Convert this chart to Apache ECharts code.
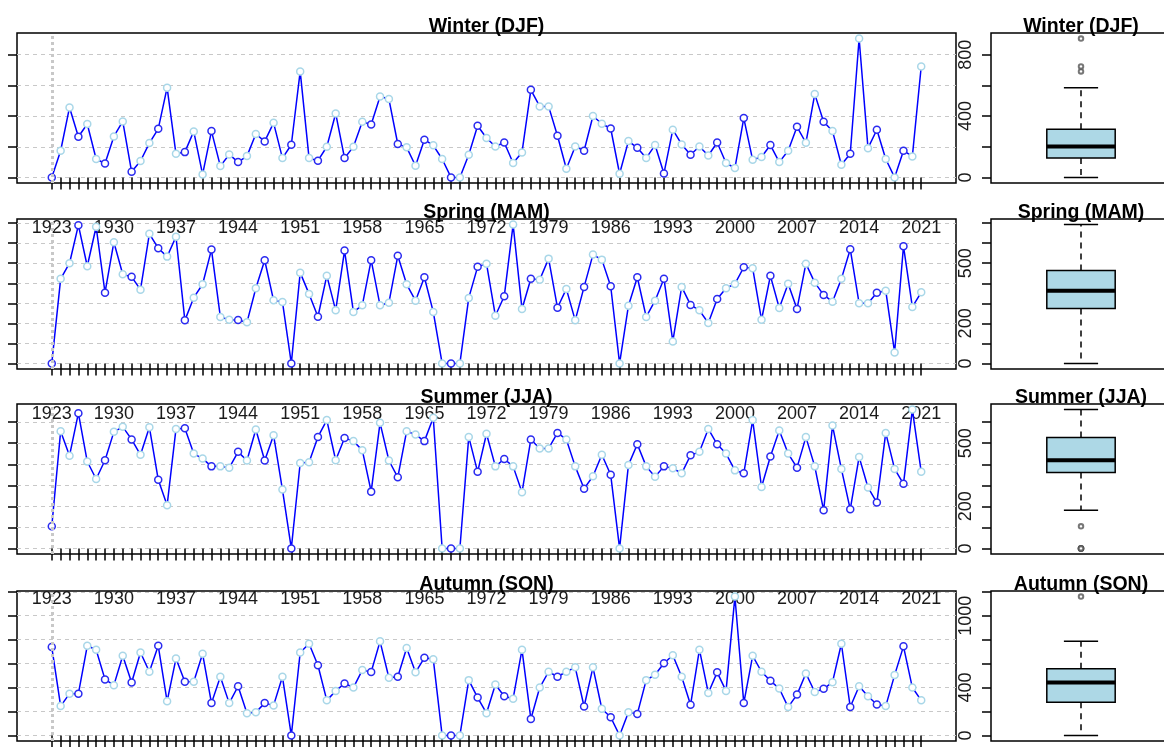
<!DOCTYPE html>
<html>
<head>
<meta charset="utf-8">
<script src="https://cdn.jsdelivr.net/npm/echarts@6/dist/echarts.min.js"></script>
<style>
  html, body { margin: 0; padding: 0; background: #fff; }
  #chart { width: 1164px; height: 747px; }
</style>
</head>
<body>
<div id="chart"></div>
<script>
// Seasonal totals, one value per year 1923..2021
const firstYear = 1923;
const lastYear = 2021;
const years = [];
for (let y = firstYear; y <= lastYear; y++) years.push(y);

const winter = [0,174,456,265,348,120,91,267,365,37, 107,224,317,585,154,165,300,20,302,74,
  150,100,139,283,235,356,126,213,691,126, 109,200,417,126,200,363,345,528,511,218,
  196,76,246,209,120,0,0,148,337,257, 202,228,94,163,571,463,463,272,57,202,
  174,400,350,319,24,237,193,126,211,26, 311,215,148,202,143,228,94,61,387,115,
  133,211,100,174,330,226,543,363,302,83, 154,905,191,311,120,0,174,137,723];

const spring = [0,422,500,690,485,682,353,605,445,432, 368,647,575,533,632,215,328,395,568,232,
  218,217,205,375,515,315,307,0,453,347, 233,438,265,563,257,290,515,290,303,537,
  395,313,430,257,0,0,0,327,482,498, 238,335,693,272,423,418,523,278,372,215,
  382,543,518,385,0,288,430,232,313,423, 110,382,292,265,202,322,375,397,480,475,
  218,437,277,398,272,498,403,342,308,422, 570,300,300,353,363,55,585,282,355];

const summer = [105,557,441,643,413,330,419,554,578,518, 445,576,327,205,568,571,451,427,390,390,
  383,459,418,565,418,538,280,0,406,410, 530,610,419,525,510,467,270,597,418,338,
  557,541,510,621,0,0,0,530,364,545, 390,425,390,267,518,475,475,549,518,390,
  284,343,445,350,0,397,495,390,341,390, 381,357,443,459,568,495,451,371,357,610,
  292,437,560,451,384,529,390,181,584,378, 186,435,290,218,549,378,307,660,364];

const autumn = [738,245,349,349,749,716,468,420,665,442, 693,532,749,285,642,448,448,682,270,490,
  270,411,186,194,270,251,490,0,693,766, 586,293,372,434,400,546,530,786,482,490,
  730,527,648,637,0,0,0,462,316,186, 425,327,307,716,138,400,532,490,532,569,
  242,569,223,152,0,194,180,462,507,603, 670,490,256,716,355,527,372,1160,270,665,
  532,456,392,237,341,518,363,389,445,766, 237,411,327,259,245,504,744,400,293];

// Axis ticks and labelled ticks
const yearLabels = [1923,1930,1937,1944,1951,1958,1965,1972,1979,1986,1993,2000,2007,2014,2021];
const winterTicks = [0,200,400,600,800];
const winterLabels = [0,400,800];
const springTicks = [0,100,200,300,400,500,600,700];
const springLabels = [0,200,500];
const summerTicks = [0,100,200,300,400,500,600];
const summerLabels = [0,200,500];
const autumnTicks = [0,200,400,600,800,1000,1200];
const autumnLabels = [0,400,1000];

const seasonTitles = ['Winter (DJF)', 'Spring (MAM)', 'Summer (JJA)', 'Autumn (SON)'];

const seasons = [
  { title: seasonTitles[0], values: winter, ticks: winterTicks, labels: winterLabels },
  { title: seasonTitles[1], values: spring, ticks: springTicks, labels: springLabels },
  { title: seasonTitles[2], values: summer, ticks: summerTicks, labels: summerLabels },
  { title: seasonTitles[3], values: autumn, ticks: autumnTicks, labels: autumnLabels }
];

// Layout
const FONT = '"Liberation Sans", Arial, Helvetica, sans-serif';
const ROW_TOP = [33, 219, 404, 591];
const ROW_H = 150;
const LINE_LEFT = 17, LINE_W = 939;
const BOX_LEFT = 991, BOX_W = 180;
const BOX_HALF = 0.19, CAP_HALF = 0.095;

// 4% padding on each side of the data range
function padRange(lo, hi) {
  const r = hi - lo;
  return [lo - 0.04 * r, hi + 0.04 * r];
}

// Tukey hinges, whiskers at 1.5 IQR, and outliers
function boxStats(values) {
  const s = values.slice().sort((a, b) => a - b);
  const n = s.length;
  const n4 = Math.floor((n + 3) / 2) / 2;
  const d = [1, n4, (n + 1) / 2, n + 1 - n4, n];
  const st = d.map(k => 0.5 * (s[Math.floor(k) - 1] + s[Math.ceil(k) - 1]));
  const iqr = st[3] - st[1];
  const lo = st[1] - 1.5 * iqr, hi = st[3] + 1.5 * iqr;
  const inside = s.filter(v => v >= lo && v <= hi);
  const out = s.filter(v => v < lo || v > hi);
  st[0] = inside[0];
  st[4] = inside[inside.length - 1];
  return { stats: st, out };
}

const plain = v => String(Math.round(v));
const xRange = padRange(firstYear, lastYear);

const grid = [], xAxis = [], yAxis = [], series = [], graphic = [];

function segment(p1, p2, style) {
  return { type: 'line', shape: { x1: p1[0], y1: p1[1], x2: p2[0], y2: p2[1] }, style };
}

seasons.forEach((s, r) => {
  const top = ROW_TOP[r];
  const vmin = Math.min(...s.values), vmax = Math.max(...s.values);
  const yRange = padRange(vmin, vmax);
  const gi = 2 * r, bi = 2 * r + 1;

  grid.push({ left: LINE_LEFT, top, width: LINE_W, height: ROW_H, show: true,
    borderColor: '#000', borderWidth: 1.5, backgroundColor: 'transparent',
    containLabel: false, outerBoundsMode: 'none' });
  grid.push({ left: BOX_LEFT, top, width: BOX_W, height: ROW_H, show: true,
    borderColor: '#000', borderWidth: 1.5, backgroundColor: 'transparent',
    containLabel: false, outerBoundsMode: 'none' });

  xAxis.push({
    gridIndex: gi, type: 'value', min: xRange[0], max: xRange[1],
    axisLine: { show: false },
    axisTick: { show: true, customValues: years, length: 12, lineStyle: { color: '#000', width: 1.5 } },
    axisLabel: { show: true, customValues: yearLabels, margin: 36, fontSize: 18,
      color: '#1a1a1a', fontFamily: FONT, formatter: plain },
    splitLine: { show: false }
  });
  xAxis.push({ gridIndex: bi, type: 'value', min: 0.5, max: 1.5, show: false });

  yAxis.push({
    gridIndex: gi, type: 'value', min: yRange[0], max: yRange[1],
    axisLine: { show: false },
    axisTick: { show: true, customValues: s.ticks, length: 9, lineStyle: { color: '#000', width: 1.5 } },
    axisLabel: { show: false },
    splitLine: { show: true, lineStyle: { color: '#c8c8c8', type: [4, 4], width: 1 } }
  });
  yAxis.push({
    gridIndex: bi, type: 'value', min: yRange[0], max: yRange[1],
    axisLine: { show: false },
    axisTick: { show: true, customValues: s.ticks, length: 9, lineStyle: { color: '#000', width: 1.5 } },
    axisLabel: { show: true, customValues: s.labels, rotate: 90, margin: 16, fontSize: 18,
      color: '#1a1a1a', fontFamily: FONT, formatter: plain },
    splitLine: { show: false }
  });

  // Yearly series
  series.push({
    type: 'line', xAxisIndex: gi, yAxisIndex: gi,
    data: s.values.map((v, i) => ({
      value: [years[i], v],
      itemStyle: { borderColor: i % 3 === 0 ? '#2a2af0' : '#a9d7e8' }
    })),
    symbol: 'circle', symbolSize: 7,
    itemStyle: { color: '#fff', borderWidth: 1.5 },
    lineStyle: { color: '#0000ff', width: 1.5 },
    emphasis: { disabled: true },
    markLine: {
      silent: true, symbol: 'none', label: { show: false },
      lineStyle: { color: '#c8c8c8', type: [3, 3], width: 3 },
      data: [{ xAxis: firstYear }]
    },
    z: 3
  });

  // Box and whiskers
  const bs = boxStats(s.values);
  series.push({
    type: 'custom', xAxisIndex: bi, yAxisIndex: bi,
    data: [[1].concat(bs.stats)],
    encode: { x: 0, y: [1, 2, 3, 4, 5] },
    renderItem: (params, api) => {
      const x = api.value(0);
      const lo = api.value(1), q1 = api.value(2), med = api.value(3), q3 = api.value(4), hi = api.value(5);
      const c = (xx, yy) => api.coord([xx, yy]);
      const dash = { stroke: '#000', lineWidth: 1.5, lineDash: [6, 5], fill: null };
      const solid = { stroke: '#000', lineWidth: 1.5, fill: null };
      const tl = c(x - BOX_HALF, q3), br = c(x + BOX_HALF, q1);
      return {
        type: 'group',
        children: [
          segment(c(x, q3), c(x, hi), dash),
          segment(c(x, q1), c(x, lo), dash),
          segment(c(x - CAP_HALF, hi), c(x + CAP_HALF, hi), solid),
          segment(c(x - CAP_HALF, lo), c(x + CAP_HALF, lo), solid),
          { type: 'rect', shape: { x: tl[0], y: tl[1], width: br[0] - tl[0], height: br[1] - tl[1] },
            style: { fill: '#add8e6', stroke: '#000', lineWidth: 1.5 } },
          segment(c(x - BOX_HALF, med), c(x + BOX_HALF, med), { stroke: '#000', lineWidth: 4 })
        ]
      };
    },
    z: 3
  });

  // Outlying values
  series.push({
    type: 'scatter', xAxisIndex: bi, yAxisIndex: bi,
    data: bs.out.map(v => [1, v]),
    symbol: 'emptyCircle', symbolSize: 4.5,
    itemStyle: { color: '#555', borderWidth: 1 },
    emphasis: { disabled: true },
    z: 4
  });

  // Panel titles
  const titleStyle = { font: 'bold 19.5px ' + FONT, fill: '#000', align: 'center', verticalAlign: 'middle' };
  graphic.push({ type: 'text', x: LINE_LEFT + LINE_W / 2, y: top - 6.5, z: 10,
    style: Object.assign({ text: s.title }, titleStyle) });
  graphic.push({ type: 'text', x: BOX_LEFT + BOX_W / 2, y: top - 6.5, z: 10,
    style: Object.assign({ text: s.title }, titleStyle) });
});

const chart = echarts.init(document.getElementById('chart'), null, { renderer: 'canvas' });
chart.setOption({
  backgroundColor: '#fff',
  animation: false,
  grid, xAxis, yAxis, series, graphic
});
</script>
</body>
</html>
